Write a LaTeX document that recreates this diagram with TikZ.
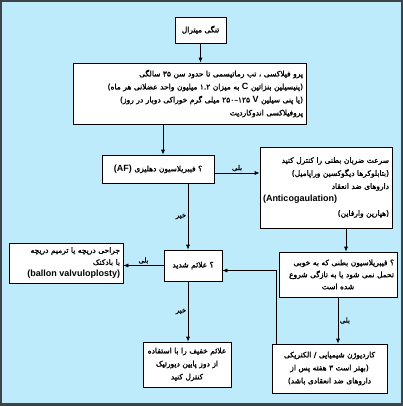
\documentclass[tikz,border=0pt]{standalone}
\usepackage{fontspec}
\setmainfont{DejaVu Sans}
\newfontfamily\persianfont[Script=Arabic, FakeBold=1.6, BoldFont={DejaVu Sans}, BoldFeatures={FakeBold=1.6}]{DejaVu Sans}
\newfontfamily\latinfont{Liberation Sans}
\TeXXeTstate=1
\usetikzlibrary{arrows.meta, positioning}
\newcommand{\faline}[1]{\beginR #1\endR}
\newcommand{\en}[1]{\beginL{\latinfont\bfseries\fontsize{9}{12}\selectfont #1}\endL}
\newcommand{\num}[1]{\beginL #1\endL}
\definecolor{framebg}{HTML}{BEEBFC}
\definecolor{frameline}{HTML}{3C4349}

\begin{document}
\begin{tikzpicture}[
  x=1pt, y=-1pt,
  every node/.style={font=\persianfont\bfseries\fontsize{7.5}{13}\selectfont},
  stepbox/.style={rectangle, draw, fill=white, line width=0.7pt, inner sep=3pt},
  answer/.style={font=\persianfont\bfseries\fontsize{7}{8}\selectfont, inner sep=1.5pt},
  arrow/.style={-{Latex[length=5pt,width=4pt]}, line width=0.7pt}
]

% Frame
\useasboundingbox (0,0) rectangle (403,406);
\fill[frameline] (0,0) rectangle (403,406);
\fill[framebg] (2,2) rectangle (401,403);

% First row
\node[stepbox, minimum width=51pt, minimum height=26pt] (mitral) at (200.5,30) {\faline{تنگی میترال}};

% Prophylaxis
\node[stepbox, text width=227pt, align=right, minimum height=61pt] (prophy) at (189.5,93.5)
  {\faline{پرو فیلاکسی ، تب رماتیسمی تا حدود سن \num{۳۵} سالگی}\\
   \faline{(پنیسیلین بنزاتین \en{C} به میزان \num{۱.۲} میلیون واحد عضلانی هر ماه)}\\
   \faline{(یا پنی سیلین \en{V} \num{۱۲۵–۲۵۰} میلی گرم خوراکی دوبار در روز)}\\
   \faline{پروفیلاکسی اندوکاردیت}};

% Atrial fibrillation and rate control
\node[stepbox, text width=106pt, align=center, minimum height=28pt] (af) at (158,169)
  {\faline{؟ فیبریلاسیون دهلیزی \en{(AF)}}};
\node[stepbox, text width=126pt, align=right, minimum height=81pt] (rate) at (326,187.5)
  {\faline{سرعت ضربان بطنی را کنترل کنید}\\
   \faline{(بتابلوکرها دیگوکسین وراپامیل)}\\
   \faline{داروهای ضد انعقاد}\\
   \makebox[126pt][l]{\en{(Anticogaulation)}}\\[1pt]
   \faline{(هپارین وارفاین)}\hspace*{10pt}};

% Third row
\node[stepbox, text width=108pt, align=right, minimum height=40pt] (surgery) at (66,263)
  {\faline{جراحی دریچه یا ترمیم دریچه}\\[-1pt]
   \faline{با بادکنک}\\[-1pt]
   \faline{\en{(ballon valvuloplosty)}}};
\node[stepbox, text width=52pt, align=center, minimum height=31pt] (severe) at (193,265.5)
  {\faline{؟ علائم شدید}};
\node[stepbox, text width=112pt, align=right, minimum height=45pt] (fib) at (338,274.5)
  {\faline{؟ فیبریلاسیون بطنی که به خوبی}\\[-1pt]
   \faline{تحمل نمی شود یا به تازگی شروع}\\[-1pt]
   \makebox[112pt][c]{\faline{شده است}}};

% Last row
\node[stepbox, text width=82pt, align=center, minimum height=45pt] (mild) at (187,364.5)
  {\faline{علائم خفیف را با استفاده}\\
   \faline{از دوز پایین دیورتیک}\\
   \faline{کنترل کنید}};
\node[stepbox, text width=109pt, align=center, minimum height=49pt] (cardio) at (329.5,368.5)
  {\faline{کاردیوژن شیمیایی / الکتریکی}\\
   \faline{(بهتر است \num{۳} هفته پس از}\\
   \faline{داروهای ضد انعقادی باشد)}};

% Arrows
\coordinate (afin) at ([xshift=5pt]af.north);
\coordinate (afyes) at ([yshift=-4pt]af.east);
\coordinate (afno) at ([xshift=-5pt]severe.north);
\coordinate (ratedown) at ([xshift=20pt]rate.south);
\coordinate (severeno) at ([xshift=-5pt]severe.south);
\coordinate (cardioup) at ([xshift=5pt]cardio.north west);
\coordinate (severein) at ([yshift=-5pt]severe.east);

\draw[arrow] (mitral) -- (mitral |- prophy.north);
\draw[arrow] (afin |- prophy.south) -- (afin);
\draw[arrow] (afyes) -- node[answer, above]{\faline{بلی}} (afyes -| rate.west);
\draw[arrow] (afno |- af.south) -- node[answer, left]{\faline{خیر}} (afno);
\draw[arrow] (ratedown) -- (ratedown |- fib.north);
\draw[arrow] (severe.west) -- node[answer, above]{\faline{بلی}} (severe.west -| surgery.east);
\draw[arrow] (severeno) -- node[answer, left]{\faline{خیر}} (severeno |- mild.north);
\draw[arrow] (fib.south) -- node[answer, right]{\faline{بلی}} (fib.south |- cardio.north);
\draw[arrow] (cardioup) |- (severein);

\end{tikzpicture}
\end{document}
